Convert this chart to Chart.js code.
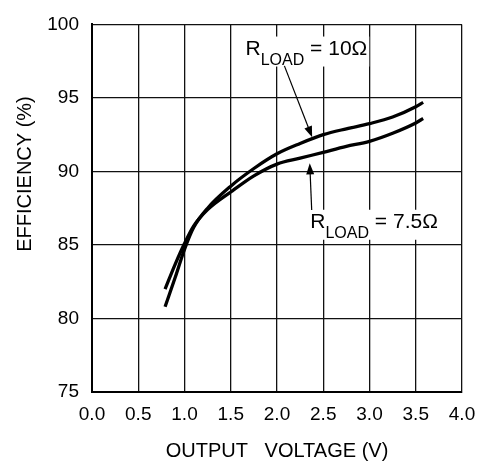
<!DOCTYPE html>
<html>
<head>
<meta charset="utf-8">
<script src="https://cdn.jsdelivr.net/npm/chart.js@4/dist/chart.umd.min.js"></script>
<style>
  html, body { margin: 0; padding: 0; background: #fff; }
  #wrap { width: 487px; height: 462px; }
</style>
</head>
<body>
<div id="wrap"><canvas id="chart"></canvas></div>
<script>
// values
const voltage = [0.79, 0.9, 1.0, 1.1, 1.25, 1.5, 1.75, 2.0, 2.25, 2.5, 2.75, 3.0, 3.25, 3.5, 3.58];
const eff10 = [80.8, 82.8, 84.7, 86.2, 87.5, 89.0, 90.2, 91.2, 91.9, 92.5, 92.9, 93.25, 93.7, 94.4, 94.7];
const eff75 = [82.0, 83.7, 85.1, 86.3, 87.4, 88.6, 89.7, 90.5, 90.9, 91.3, 91.7, 92.05, 92.6, 93.3, 93.6];
const xTicks = [0, 0.5, 1, 1.5, 2, 2.5, 3, 3.5, 4];
const yTicks = [75, 80, 85, 90, 95, 100];

const FONT = 'Liberation Sans, Arial, sans-serif';

// curve labels in data coordinates, arrow goes from -> to
const labels = [
    { sub: 'LOAD', rest: ' = 10\u03A9', at: [1.66, 97.95], arrow: [[2.08, 97.18], [2.38, 92.33]] },
    { sub: 'LOAD', rest: ' = 7.5\u03A9', at: [2.36, 86.17], arrow: [[2.375, 87.38], [2.354, 90.55]] }
];

function toPoints(xs, ys) {
    return xs.map((x, i) => ({ x: x, y: ys[i] }));
}

function drawArrow(ctx, x1, y1, x2, y2) {
    const ang = Math.atan2(y2 - y1, x2 - x1);
    const len = 11, half = 4;
    ctx.strokeStyle = '#000';
    ctx.lineWidth = 1.2;
    ctx.beginPath();
    ctx.moveTo(x1, y1);
    ctx.lineTo(x2 - Math.cos(ang) * len * 0.8, y2 - Math.sin(ang) * len * 0.8);
    ctx.stroke();
    ctx.fillStyle = '#000';
    ctx.beginPath();
    ctx.moveTo(x2, y2);
    ctx.lineTo(x2 - Math.cos(ang) * len - Math.sin(ang) * half, y2 - Math.sin(ang) * len + Math.cos(ang) * half);
    ctx.lineTo(x2 - Math.cos(ang) * len + Math.sin(ang) * half, y2 - Math.sin(ang) * len - Math.cos(ang) * half);
    ctx.closePath();
    ctx.fill();
}

const extras = {
    id: 'extras',
    afterDatasetsDraw(chart) {
        const ctx = chart.ctx;
        const xs = chart.scales.x, ys = chart.scales.y;
        ctx.save();
        labels.forEach(l => {
            const x = xs.getPixelForValue(l.at[0]);
            const y = ys.getPixelForValue(l.at[1]);
            ctx.font = '21px ' + FONT;
            const wR = ctx.measureText('R').width;
            const wRest = ctx.measureText(l.rest).width;
            ctx.font = '16px ' + FONT;
            const wS = ctx.measureText(l.sub).width;
            ctx.fillStyle = '#fff';
            ctx.fillRect(x - 3, y - 18, wR + wS + wRest + 5, 30);
            ctx.fillStyle = '#000';
            ctx.textBaseline = 'alphabetic';
            ctx.textAlign = 'left';
            ctx.font = '21px ' + FONT;
            ctx.fillText('R', x, y);
            ctx.font = '16px ' + FONT;
            ctx.fillText(l.sub, x + wR, y + 10);
            ctx.font = '21px ' + FONT;
            ctx.fillText(l.rest, x + wR + wS, y);
            drawArrow(ctx,
                xs.getPixelForValue(l.arrow[0][0]), ys.getPixelForValue(l.arrow[0][1]),
                xs.getPixelForValue(l.arrow[1][0]), ys.getPixelForValue(l.arrow[1][1]));
        });

        // axis titles
        ctx.fillStyle = '#000';
        ctx.font = '20px ' + FONT;
        ctx.textAlign = 'center';
        ctx.textBaseline = 'alphabetic';
        ctx.fillText('OUTPUT   VOLTAGE (V)', (chart.chartArea.left + chart.chartArea.right) / 2, 457);
        ctx.translate(31, 174);
        ctx.rotate(-Math.PI / 2);
        ctx.fillText('EFFICIENCY (%)', 0, 0);
        ctx.restore();
    }
};

new Chart(document.getElementById('chart'), {
    type: 'line',
    data: {
        datasets: [
            { label: 'RLOAD = 10', data: toPoints(voltage, eff10) },
            { label: 'RLOAD = 7.5', data: toPoints(voltage, eff75) }
        ]
    },
    options: {
        responsive: true,
        maintainAspectRatio: false,
        animation: false,
        layout: { padding: { top: 14, right: 25, left: 0, bottom: 0 } },
        elements: {
            point: { radius: 0 },
            line: { borderColor: '#000', borderWidth: 3.3, cubicInterpolationMode: 'monotone', fill: false }
        },
        plugins: {
            legend: { display: false },
            tooltip: { enabled: false }
        },
        scales: {
            x: {
                type: 'linear',
                min: 0,
                max: 4,
                afterBuildTicks: s => { s.ticks = xTicks.map(v => ({ value: v })); },
                afterFit: s => { s.height = 70; },
                grid: { color: '#111', lineWidth: 1.3, drawTicks: false },
                border: { color: '#000', width: 2 },
                ticks: {
                    color: '#000',
                    padding: 11,
                    font: { family: FONT, size: 19 },
                    callback: v => Number(v).toFixed(1)
                }
            },
            y: {
                min: 75,
                max: 100,
                afterBuildTicks: s => { s.ticks = yTicks.map(v => ({ value: v })); },
                afterFit: s => { s.width = 92; },
                grid: { color: '#111', lineWidth: 1.3, drawTicks: false },
                border: { color: '#000', width: 2 },
                ticks: {
                    color: '#000',
                    padding: 13,
                    font: { family: FONT, size: 19 }
                }
            }
        }
    },
    plugins: [extras]
});
</script>
</body>
</html>
